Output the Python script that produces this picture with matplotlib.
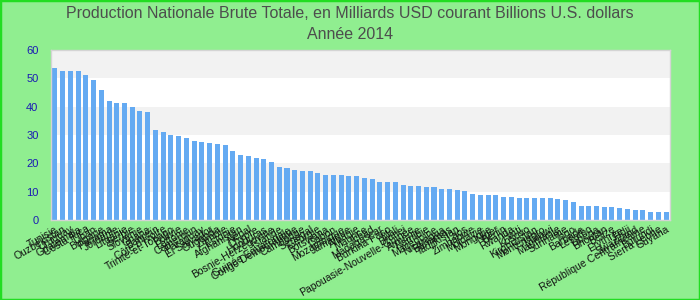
import matplotlib
matplotlib.use("Agg")
import matplotlib.pyplot as plt
from matplotlib.patches import Rectangle

plt.rcParams['font.family'] = ['Liberation Sans', 'DejaVu Sans']

pays = ["Tunisie", "Ouzbékistan", "Uruguay", "Guatemala", "Costa Rica", "Liban",
        "Bulgarie", "Panama", "Jordanie", "Lituanie", "Serbie", "Slovénie", "Ghana",
        "Bahreïn", "Côte d'Ivoire", "Trinité-et-Tobago", "Bolivie", "Lettonie",
        "Cameroun", "Paraguay", "El Salvador", "Ouganda", "Zambie", "Estonie",
        "Afghanistan", "Népal", "Chypre", "Honduras", "Bosnie-Herzégovine", "Islande",
        "Guinée Équatoriale", "Congo Démocratique", "Cambodge", "Sénégal", "Géorgie",
        "Botswana", "Gabon", "Mozambique", "Jamaïque", "Albanie", "Maurice", "Tchad",
        "Madagascar", "Burkina Faso", "Mali", "Brunei", "Papouasie-Nouvelle-Guinée",
        "Arménie", "Namibie", "Macédoine", "Nicaragua", "Bahamas", "Tadjikistan",
        "Laos", "Zimbabwe", "Moldavie", "Mongolie", "Niger", "Bénin", "Rwanda",
        "Haïti", "Kosovo", "Kirghizistan", "Monténégro", "Malawi", "Mauritanie",
        "Suriname", "Togo", "Barbade", "Lesotho", "Libéria", "Bhoutan", "Belize",
        "Érythrée", "Fidji", "Swaziland", "République Centrafricaine", "Burundi",
        "Sierra Leone", "Guyana"]

valeurs = [53.6, 52.6, 52.6, 52.6, 51.2, 49.4, 45.9, 42.0, 41.3, 41.3, 39.9, 38.5,
           38.1, 31.8, 31.1, 30.0, 29.6, 28.9, 27.9, 27.5, 27.2, 26.8, 26.5, 24.4,
           22.9, 22.6, 21.9, 21.5, 20.5, 18.7, 18.4, 17.6, 17.3, 17.3, 16.6, 15.9,
           15.9, 15.9, 15.5, 15.5, 14.8, 14.5, 13.4, 13.4, 13.4, 12.4, 12.0, 12.0,
           11.6, 11.6, 10.9, 10.9, 10.6, 10.2, 9.2, 8.8, 8.8, 8.8, 8.1, 8.1, 7.8,
           7.8, 7.8, 7.8, 7.8, 7.4, 7.1, 6.4, 4.9, 4.9, 4.9, 4.6, 4.6, 4.2, 3.9,
           3.5, 3.5, 2.8, 2.8, 2.8]

y_ticks = [0, 10, 20, 30, 40, 50, 60]

titre = "Production Nationale Brute Totale, en Milliards USD courant Billions U.S. dollars\nAnnée 2014"

fig = plt.figure(figsize=(7, 3), dpi=100, facecolor='#90ee90')
ax = fig.add_axes([51/700, 1-220/300, 619/700, 170/300])
ax.set_facecolor('white')

for lo in (10, 30, 50):
    ax.axhspan(lo, lo + 10, color='#f2f2f2', zorder=0, lw=0)

x = list(range(len(pays)))
ax.bar(x, valeurs, width=0.65, color='#64aaf2', zorder=2)

ax.set_xlim(-0.5, len(pays) - 0.5)
ax.set_ylim(0, 60)
ax.set_yticks(y_ticks)
ax.set_yticklabels([str(t) for t in y_ticks], color='#1a1ab4', fontsize=8)
ax.set_xticks(x)
ax.set_xticklabels(pays, rotation=30, ha='right', rotation_mode='anchor', fontsize=7.5, color='#111111')
ax.tick_params(axis='both', length=0, pad=3)
ax.tick_params(axis='y', pad=9)

for s in ax.spines.values():
    s.set_color('#d4d4d4')
    s.set_linewidth(1)

fig.text(0.5, 1 - 24/300, titre, ha='center', va='center', fontsize=11.5,
         color='#4d4d4d', linespacing=1.55)

fig.patches.append(Rectangle((0, 0), 1, 1, transform=fig.transFigure, fill=False,
                             edgecolor='#22dd22', linewidth=2.5))

fig.savefig('out.png', dpi=100, facecolor=fig.get_facecolor())
